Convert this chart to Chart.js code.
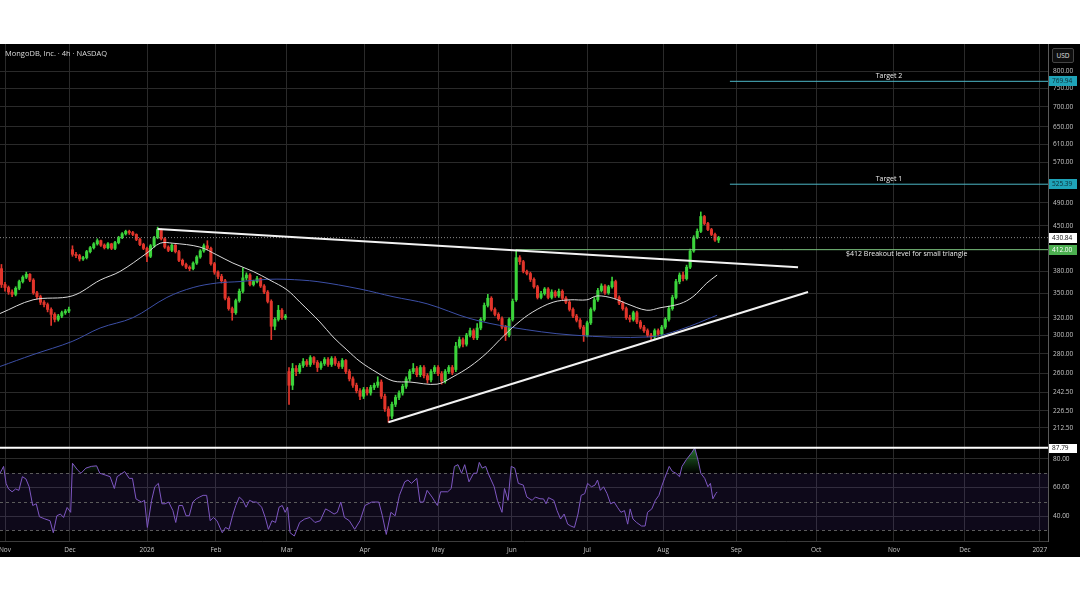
<!DOCTYPE html>
<html>
<head>
<meta charset="utf-8">
<title>MongoDB 4h</title>
<script src="https://cdn.jsdelivr.net/npm/chart.js@4.4.1/dist/chart.umd.min.js"></script>
<style>
  html, body { margin: 0; padding: 0; background: #fff; }
  #panel { position: absolute; left: 0; top: 44px; width: 1080px; height: 513px; background: #000; overflow: hidden; }
  #priceChart { position: absolute; left: 0; top: 0; }
  #rsiChart { position: absolute; left: 0; top: 400px; }
  #title { position: absolute; left: 5px; top: 4px; font: 7.5px "Open Sans", sans-serif; color: #dcdcdc; }
  #usd { position: absolute; left: 1052px; top: 4px; width: 20px; height: 13px; border: 1px solid #444; border-radius: 2px;
         background: #0e0e0e; color: #e0e0e0; font: 6.5px "Open Sans", sans-serif; text-align: center; line-height: 13px; }
</style>
</head>
<body>
<div id="panel">
  <canvas id="priceChart" width="1080" height="400"></canvas>
  <canvas id="rsiChart" width="1080" height="113"></canvas>
  <div id="title">MongoDB, Inc. · 4h · NASDAQ</div>
  <div id="usd">USD</div>
</div>
<script>
// x axis: trading-day index, month starts
const monthTicks = [0, 18.3, 40, 59.4, 79.4, 101.4, 122, 142.8, 164, 185.4, 206, 228.5, 250.4, 270.4, 291.5];
const monthLabels = ['Nov', 'Dec', '2026', 'Feb', 'Mar', 'Apr', 'May', 'Jun', 'Jul', 'Aug', 'Sep', 'Oct', 'Nov', 'Dec', '2027'];
const priceTicks = [800, 750, 700, 650, 610, 570, 490, 450, 380, 350, 320, 300, 280, 260, 242.5, 226.5, 212.5];
const rsiTicks = [80, 60, 40];
const rsiLevels = [70, 50, 30];

// candles, one per trading day, first one at day -1
const firstDay = -1;
const opens = [
  384, 362, 358, 352, 349, 357, 366, 372, 376, 368,
  351, 346, 339, 336, 330, 324, 318, 322, 326, 328,
  412, 405, 403, 398, 400, 409, 415, 421, 426, 419,
  415, 421, 414, 423, 431, 437, 441, 439, 436, 428,
  420, 414, 402, 418, 431, 444, 429, 416, 411, 419,
  409, 396, 390, 386, 384, 392, 401, 410, 418, 414,
  391, 379, 373, 367, 344, 331, 326, 341, 353, 371,
  375, 362, 366, 370, 360, 352, 340, 310, 318, 329,
  320, 262, 249, 265, 262, 268, 272, 269, 276, 271,
  266, 270, 274, 269, 275, 270, 267, 273, 262, 255,
  249, 244, 239, 245, 242, 247, 249, 252, 239, 228,
  222, 232, 238, 242, 248, 255, 262, 265, 259, 266,
  258, 254, 262, 266, 260, 253, 262, 266, 264, 288,
  295, 290, 300, 305, 297, 308, 318, 335, 344, 330,
  324, 319, 309, 300, 318, 342, 400, 394, 380, 377,
  369, 359, 345, 350, 356, 345, 352, 347, 353, 344,
  339, 330, 322, 317, 309, 300, 314, 330, 342, 354,
  360, 351, 359, 366, 345, 338, 331, 320, 318, 326,
  315, 309, 305, 300, 298, 305, 301, 309, 318, 331,
  345, 366, 375, 370, 386, 410, 431, 441, 466, 454,
  444, 436, 427
];
const highs = [
  390, 365, 360, 355, 359, 368, 374, 379, 377, 370,
  353, 348, 341, 338, 332, 326, 324, 328, 330, 333,
  418, 408, 405, 402, 411, 417, 423, 429, 427, 421,
  423, 422, 425, 433, 439, 443, 443, 441, 437, 430,
  422, 416, 420, 433, 448, 445, 431, 418, 421, 420,
  411, 398, 392, 388, 394, 403, 412, 421, 426, 416,
  393, 381, 376, 369, 346, 333, 343, 356, 385, 378,
  377, 368, 373, 371, 362, 354, 342, 320, 335, 331,
  324, 266, 270, 268, 270, 275, 274, 278, 277, 273,
  272, 276, 276, 277, 277, 272, 275, 274, 264, 257,
  251, 246, 247, 247, 249, 251, 257, 254, 241, 230,
  234, 240, 244, 250, 257, 264, 270, 267, 268, 268,
  260, 264, 268, 268, 262, 264, 268, 268, 292, 298,
  297, 302, 308, 307, 313, 320, 338, 349, 346, 332,
  326, 321, 311, 320, 343, 412, 403, 396, 382, 379,
  371, 361, 353, 358, 358, 355, 354, 356, 355, 346,
  341, 332, 324, 319, 311, 316, 332, 345, 357, 363,
  362, 361, 372, 368, 347, 340, 333, 323, 328, 328,
  317, 311, 307, 302, 307, 307, 311, 320, 334, 348,
  369, 378, 379, 389, 413, 434, 445, 474, 468, 456,
  446, 438, 433
];
const lows = [
  358, 353, 349, 346, 347, 355, 364, 370, 366, 349,
  343, 336, 333, 327, 311, 315, 316, 320, 324, 326,
  402, 400, 395, 396, 398, 407, 413, 419, 417, 413,
  413, 412, 412, 421, 429, 435, 436, 434, 426, 418,
  412, 394, 400, 416, 429, 427, 414, 409, 409, 407,
  394, 388, 384, 381, 382, 390, 399, 408, 412, 389,
  376, 370, 364, 342, 329, 317, 324, 339, 351, 368,
  360, 360, 364, 358, 350, 338, 295, 306, 316, 318,
  318, 232, 245, 258, 260, 266, 267, 267, 269, 262,
  264, 268, 267, 267, 268, 265, 265, 260, 253, 247,
  242, 236, 237, 240, 240, 245, 247, 237, 226, 217,
  220, 230, 236, 240, 246, 253, 260, 257, 257, 256,
  251, 252, 260, 258, 250, 251, 260, 259, 262, 286,
  287, 288, 298, 295, 295, 306, 316, 333, 328, 322,
  317, 307, 294, 298, 316, 340, 390, 378, 375, 366,
  357, 343, 343, 348, 343, 343, 345, 345, 342, 337,
  328, 320, 315, 307, 293, 298, 312, 328, 340, 352,
  349, 349, 357, 343, 336, 329, 318, 315, 316, 313,
  307, 303, 298, 295, 296, 299, 299, 307, 316, 329,
  343, 363, 367, 368, 384, 408, 429, 439, 452, 442,
  434, 425, 423
];
const closes = [
  362, 358, 352, 349, 357, 366, 372, 376, 368, 351,
  346, 339, 336, 330, 324, 318, 322, 326, 328, 330,
  405, 403, 398, 400, 409, 415, 421, 426, 419, 415,
  421, 414, 423, 431, 437, 441, 439, 436, 428, 420,
  414, 402, 418, 431, 444, 429, 416, 411, 419, 409,
  396, 390, 386, 384, 392, 401, 410, 418, 414, 391,
  379, 373, 367, 344, 331, 326, 341, 353, 371, 375,
  362, 366, 370, 360, 352, 340, 310, 318, 329, 320,
  322, 249, 265, 262, 268, 272, 269, 276, 271, 266,
  270, 274, 269, 275, 270, 267, 273, 262, 255, 249,
  244, 239, 245, 242, 247, 249, 252, 239, 228, 222,
  232, 238, 242, 248, 255, 262, 265, 259, 266, 258,
  254, 262, 266, 260, 253, 262, 266, 261, 288, 295,
  290, 300, 305, 297, 308, 318, 335, 344, 330, 324,
  319, 309, 300, 318, 340, 400, 394, 380, 377, 369,
  359, 345, 350, 356, 345, 352, 347, 353, 344, 339,
  330, 322, 317, 309, 300, 314, 330, 342, 354, 360,
  351, 359, 366, 345, 338, 331, 320, 318, 326, 315,
  309, 305, 300, 298, 305, 301, 309, 318, 331, 345,
  366, 375, 370, 386, 410, 431, 441, 466, 454, 444,
  436, 427, 430.84
];

// moving averages (day index, price)
const maFastX = [-1.4, 7.9, 18.9, 26.8, 32.4, 40, 43.7, 47.3, 54.9, 59.7, 64.2, 69.9, 74.6, 79.4, 83.1, 88.7, 92.4, 96.3, 100, 104.8,
  109.3, 114.1, 121.7, 126.2, 131, 135.8, 139.4, 144.2, 148.7, 154.4, 159.2, 163.9, 166.8, 171.3, 175.2, 180.8, 184.5, 190.1, 193.8, 197.7, 200.6];
const maFast = [325, 342, 347, 368, 380, 407, 422, 422, 416, 404, 392, 380, 368, 355, 339, 315, 298, 284, 272, 261,
  253, 252, 250, 257, 267, 281, 295, 313, 327, 339, 342, 342, 347, 344, 337, 329, 332, 337, 346, 364, 375];
const maSlowX = [-1.4, 7.9, 18.9, 26.8, 36, 45.6, 53, 59.7, 66.2, 73.8, 79.4, 87.9, 100, 109.3, 118.9, 131, 142.3, 160, 181.7, 190.1, 200.6];
const maSlow = [267, 279, 293, 308, 320, 345, 358, 364, 366, 369, 369, 366, 356, 346, 337, 319, 309, 300, 298, 306, 323];

// drawn trend lines and levels
const upperTrendX = [43, 223.4];
const upperTrend = [445, 386];
const lowerTrendX = [108, 226.2];
const lowerTrend = [217, 352];
const lastClose = 430.84;
const breakout = 412;
const breakoutFrom = 144;
const target1 = 525.39;
const target2 = 769.94;
const targetFrom = 204.2;

// RSI (14)
const rsiX = [-1.4, -0.4, 0.3, 1.0, 2.0, 3.0, 3.9, 4.9, 5.9, 6.8,
  7.8, 8.8, 9.7, 11.2, 12.7, 13.6, 14.6, 15.6, 16.5, 17.5,
  18.5, 19.0, 20.4, 21.4, 22.8, 24.3, 25.8, 26.7, 28.2, 29.6,
  30.8, 31.6, 33.0, 33.7, 35.0, 35.9, 36.9, 38.4, 39.3, 40.1,
  41.3, 42.2, 43.2, 44.2, 45.1, 46.1, 47.3, 48.1, 49.0, 50.0,
  51.0, 51.9, 52.9, 53.9, 54.8, 55.8, 56.8, 57.8, 58.7, 59.7,
  61.2, 62.1, 63.1, 64.1, 65.0, 66.0, 67.0, 67.9, 68.9, 69.9,
  70.9, 72.3, 73.3, 74.2, 75.2, 76.2, 77.2, 78.1, 78.9, 79.6,
  80.3, 81.5, 83.0, 84.4, 85.9, 87.3, 88.8, 90.3, 91.2, 92.7,
  93.6, 94.6, 95.6, 97.0, 98.5, 100.0, 101.4, 103.3, 105.3, 106.3,
  107.4, 108.7, 109.9, 111.1, 112.6, 113.5, 114.5, 116.0, 116.9, 117.9,
  118.9, 120.3, 121.8, 122.7, 124.7, 125.7, 126.6, 127.6, 128.6, 129.5,
  130.7, 132.0, 132.9, 133.6, 134.4, 135.4, 136.3, 137.8, 138.7, 140.0,
  140.7, 141.7, 142.6, 143.6, 144.6, 146.0, 147.0, 148.5, 149.4, 150.7,
  151.7, 152.4, 153.1, 154.6, 155.5, 156.5, 157.5, 158.5, 159.4, 160.4,
  161.4, 162.3, 163.3, 164.1, 165.2, 166.2, 166.9, 167.7, 168.6, 169.6,
  170.6, 171.6, 172.5, 173.5, 174.5, 175.4, 176.1, 176.9, 177.9, 179.3,
  180.3, 181.0, 182.2, 183.2, 184.2, 185.1, 185.8, 187.1, 188.0, 189.0,
  190.0, 190.7, 191.9, 193.4, 194.3, 195.3, 196.0, 197.1, 198.0, 198.7,
  199.4, 200.2, 200.6];
const rsi = [70, 74.8, 62.9, 59, 57, 59, 58, 67.6, 66, 60.5,
  47.4, 48.6, 39.5, 38, 36.7, 28.3, 40.2, 41.4, 39, 46,
  42.6, 77, 72.4, 70, 73.6, 74.8, 75.2, 70, 68.8, 67.6,
  59.3, 67.6, 70, 71.2, 66.4, 66.4, 52, 49.8, 51, 32,
  51, 60.5, 62.9, 48.6, 48.6, 49.8, 43.8, 35.5, 47.4, 47.4,
  40.2, 40.2, 49.8, 52.1, 53.3, 54.5, 54.5, 36.7, 39, 36.7,
  28.3, 32, 30.7, 40.2, 47.4, 53.3, 51, 46.2, 51, 49.8,
  49.8, 46.2, 39, 30.7, 36.7, 35.5, 46.2, 47.4, 42.6, 46.2,
  28.3, 26, 35.5, 37.9, 39, 35.5, 36.7, 45, 43.8, 41.4,
  42.6, 49.8, 39, 36.7, 30.7, 36.7, 47.4, 49.8, 49.8, 40.2,
  27.1, 42.6, 40.2, 54.5, 64, 65.2, 62.9, 66.4, 49.8, 49.8,
  58, 53.3, 47.4, 57, 57, 59.3, 74.8, 76, 70, 76,
  64, 70, 70, 77.6, 73.6, 74.8, 68.8, 60.5, 51, 42.6,
  59.3, 51, 74.8, 73.6, 62.9, 61.7, 53.3, 51, 53.3, 52.1,
  52, 48.6, 52.9, 51, 43.8, 37.9, 41.4, 34.3, 33, 32,
  41.4, 54.5, 55.7, 62.9, 60.5, 61.7, 65.2, 58, 60.5, 55.7,
  48.6, 49.8, 46.2, 42.6, 43.8, 34.3, 45, 37.9, 35.5, 33,
  33, 42.6, 45, 51, 54.5, 61.7, 66.4, 74.8, 71.2, 70,
  67.6, 74.8, 79.5, 84.3, 87.79, 78.3, 70, 66.4, 60.5, 62.9,
  52.1, 55.7, 56.9];
const rsiHigh = 87.79;

const X_MIN = -1.41, X_MAX = 293.8;
const AXIS_FONT = { family: 'Open Sans', size: 6.5 };
const GRID = '#2a2a2a';
const UP = '#3bd43b', DOWN = '#e2352b';

function pts(xs, ys) {
  return xs.map((x, k) => ({ x: x, y: ys[k] }));
}

// keep the plot area edge to edge: no label overflow padding
function noPad(s) {
  s.paddingTop = 0; s.paddingBottom = 0; s.paddingLeft = 0; s.paddingRight = 0;
}

function xAxis(withLabels) {
  return {
    type: 'linear', min: X_MIN, max: X_MAX, offset: false, bounds: 'data',
    afterBuildTicks: s => { s.ticks = monthTicks.map(v => ({ value: v })); },
    afterFit: s => { s.height = withLabels ? 16 : 0; noPad(s); },
    grid: { color: GRID, drawTicks: false, offset: false },
    border: { display: true, color: '#3c3c3c' },
    ticks: {
      display: withLabels, autoSkip: false, maxRotation: 0, padding: 5,
      color: '#c4c4c4', font: AXIS_FONT,
      callback: v => { const k = monthTicks.indexOf(v); return k < 0 ? '' : monthLabels[k]; }
    }
  };
}

function axisTag(chart, value, text, bg, fg) {
  const { ctx, chartArea, scales } = chart;
  const yp = Math.round(scales.y.getPixelForValue(value));
  ctx.save();
  ctx.fillStyle = bg;
  ctx.fillRect(chartArea.right + 1, yp - 5, 28, 10);
  ctx.fillStyle = fg;
  ctx.font = '6.5px "Open Sans"';
  ctx.textBaseline = 'middle';
  ctx.textAlign = 'left';
  ctx.fillText(text, chartArea.right + 4, yp + 0.5);
  ctx.restore();
}

// ---------- price pane ----------
const candleColors = closes.map((c, k) => c >= opens[k] ? UP : DOWN);

const pricePlugin = {
  id: 'priceNotes',
  afterDatasetsDraw(chart) {
    const { ctx, scales: { x, y } } = chart;
    ctx.save();
    ctx.fillStyle = '#ececec';
    ctx.font = '7px "Open Sans"';
    ctx.textAlign = 'center';
    ctx.textBaseline = 'bottom';
    const mid = (targetFrom + X_MAX) / 2;
    ctx.fillText('Target 2', x.getPixelForValue(mid), y.getPixelForValue(target2) - 2);
    ctx.fillText('Target 1', x.getPixelForValue(mid), y.getPixelForValue(target1) - 2);
    ctx.textBaseline = 'top';
    ctx.fillText('$412 Breakout level for small triangle', x.getPixelForValue(254), y.getPixelForValue(breakout) + 1);
    ctx.restore();
  },
  afterDraw(chart) {
    axisTag(chart, target2, target2.toFixed(2), '#1fa3b8', '#0b2a33');
    axisTag(chart, target1, target1.toFixed(2), '#1fa3b8', '#0b2a33');
    axisTag(chart, lastClose, lastClose.toFixed(2), '#ffffff', '#111111');
    axisTag(chart, breakout, breakout.toFixed(2), '#4caf50', '#ffffff');
  }
};

new Chart(document.getElementById('priceChart'), {
  type: 'line',
  data: {
    datasets: [
      { type: 'line', data: pts(upperTrendX, upperTrend), borderColor: '#f2f2f2', borderWidth: 2, pointRadius: 0, order: 0 },
      { type: 'line', data: pts(lowerTrendX, lowerTrend), borderColor: '#f2f2f2', borderWidth: 2, pointRadius: 0, order: 0 },
      { type: 'line', data: [{ x: breakoutFrom, y: breakout }, { x: X_MAX, y: breakout }], borderColor: '#7cc47f', borderWidth: 1, pointRadius: 0, order: 1 },
      { type: 'line', data: [{ x: targetFrom, y: target1 }, { x: X_MAX, y: target1 }], borderColor: '#4cb6c6', borderWidth: 1, pointRadius: 0, order: 1 },
      { type: 'line', data: [{ x: targetFrom, y: target2 }, { x: X_MAX, y: target2 }], borderColor: '#4cb6c6', borderWidth: 1, pointRadius: 0, order: 1 },
      { type: 'line', data: [{ x: X_MIN, y: lastClose }, { x: X_MAX, y: lastClose }], borderColor: '#8a8a8a', borderWidth: 1, borderDash: [1, 2], pointRadius: 0, order: 1 },
      { type: 'line', data: pts(maFastX, maFast), borderColor: '#dadada', borderWidth: 1, pointRadius: 0, tension: 0.35, order: 2 },
      { type: 'line', data: pts(maSlowX, maSlow), borderColor: '#3c4fa6', borderWidth: 1, pointRadius: 0, tension: 0.35, order: 2 },
      {
        type: 'bar', order: 3, grouped: false, barThickness: 2.4, minBarLength: 1, borderWidth: 0,
        data: closes.map((c, k) => ({ x: firstDay + k, y: [opens[k], c] })),
        backgroundColor: candleColors
      },
      {
        type: 'bar', order: 4, grouped: false, barThickness: 1, borderWidth: 0,
        data: closes.map((c, k) => ({ x: firstDay + k, y: [lows[k], highs[k]] })),
        backgroundColor: candleColors
      }
    ]
  },
  options: {
    responsive: false, animation: false,
    layout: { padding: 0, autoPadding: false },
    plugins: { legend: { display: false }, tooltip: { enabled: false } },
    scales: {
      x: xAxis(false),
      y: {
        type: 'logarithmic', position: 'right', min: 200.2, max: 884.4, bounds: 'data',
        afterBuildTicks: s => { s.ticks = priceTicks.map(v => ({ value: v })); },
        afterFit: s => { s.width = 32; noPad(s); },
        grid: { color: GRID, drawTicks: false },
        border: { color: '#5a5a5a' },
        ticks: { autoSkip: false, padding: 5, color: '#c4c4c4', font: AXIS_FONT, callback: v => Number(v).toFixed(2) }
      }
    }
  },
  plugins: [pricePlugin]
});

// ---------- RSI pane ----------
const rsiPlugin = {
  id: 'rsiBands',
  beforeDatasetsDraw(chart) {
    const { ctx, chartArea: a, scales: { y } } = chart;
    const top = y.getPixelForValue(rsiLevels[0]);
    const bottom = y.getPixelForValue(rsiLevels[rsiLevels.length - 1]);
    ctx.save();
    ctx.fillStyle = 'rgba(110, 70, 200, 0.13)';
    ctx.fillRect(a.left, top, a.right - a.left, bottom - top);
    ctx.strokeStyle = '#5b5b5b';
    ctx.lineWidth = 1;
    ctx.setLineDash([3, 3]);
    rsiLevels.forEach(v => {
      const yp = Math.round(y.getPixelForValue(v)) + 0.5;
      ctx.beginPath(); ctx.moveTo(a.left, yp); ctx.lineTo(a.right, yp); ctx.stroke();
    });
    ctx.restore();
  },
  afterDatasetsDraw(chart) {
    const { ctx, chartArea: a, scales: { y } } = chart;
    const yp = y.getPixelForValue(rsiHigh);
    ctx.save();
    ctx.strokeStyle = '#ffffff';
    ctx.lineWidth = 2;
    ctx.beginPath(); ctx.moveTo(a.left, yp); ctx.lineTo(a.right, yp); ctx.stroke();
    ctx.restore();
  },
  afterDraw(chart) {
    axisTag(chart, rsiHigh, rsiHigh.toFixed(2), '#ffffff', '#111111');
  }
};

function overboughtFill(context) {
  const { ctx, chartArea, scales } = context.chart;
  if (!chartArea || !scales.y) return 'rgba(0,0,0,0)';
  const y0 = scales.y.getPixelForValue(70), y1 = scales.y.getPixelForValue(90);
  if (!isFinite(y0) || !isFinite(y1)) return 'rgba(0,0,0,0)';
  const g = ctx.createLinearGradient(0, y0, 0, y1);
  g.addColorStop(0, 'rgba(40, 140, 50, 0)');
  g.addColorStop(1, 'rgba(60, 170, 70, 0.8)');
  return g;
}

new Chart(document.getElementById('rsiChart'), {
  type: 'line',
  data: {
    datasets: [{
      data: pts(rsiX, rsi), borderColor: '#7e57c2', borderWidth: 1, pointRadius: 0,
      backgroundColor: overboughtFill,
      fill: { target: { value: 70 }, below: 'rgba(0,0,0,0)' }
    }]
  },
  options: {
    responsive: false, animation: false,
    layout: { padding: 0, autoPadding: false },
    plugins: { legend: { display: false }, tooltip: { enabled: false } },
    scales: {
      x: xAxis(true),
      y: {
        type: 'linear', position: 'right', min: 22.5, max: 90.5, bounds: 'data',
        afterBuildTicks: s => { s.ticks = rsiTicks.map(v => ({ value: v })); },
        afterFit: s => { s.width = 32; noPad(s); },
        grid: { color: GRID, drawTicks: false },
        border: { color: '#5a5a5a' },
        ticks: { autoSkip: false, padding: 5, color: '#c4c4c4', font: AXIS_FONT, callback: v => Number(v).toFixed(2) }
      }
    }
  },
  plugins: [rsiPlugin]
});
</script>
</body>
</html>
